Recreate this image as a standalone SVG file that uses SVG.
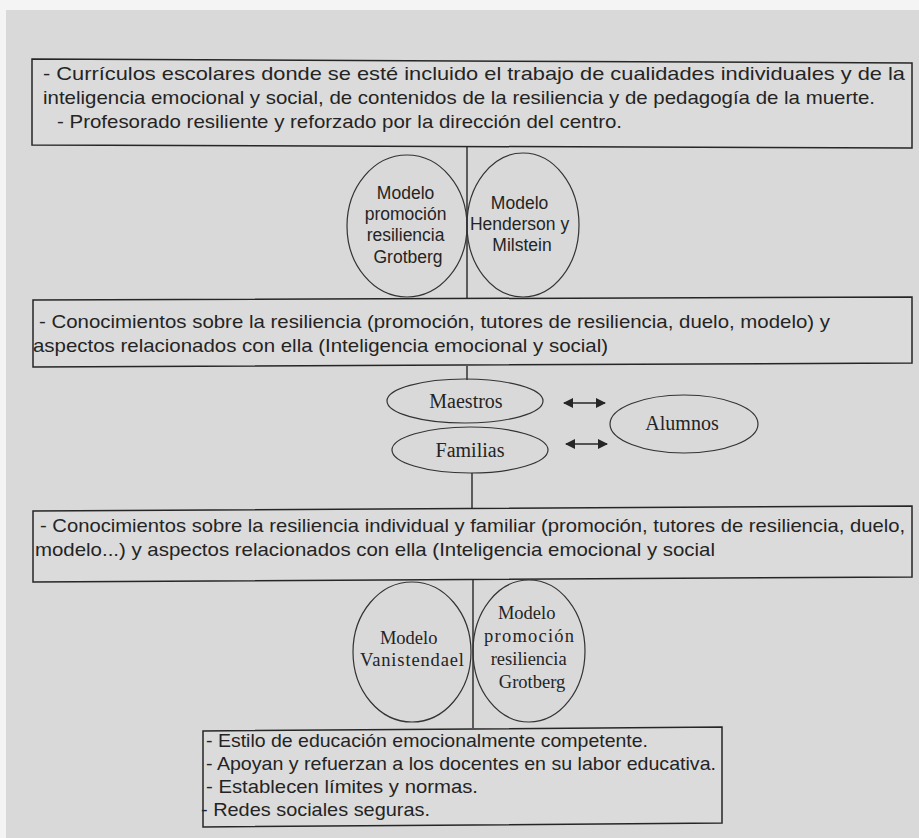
<svg xmlns="http://www.w3.org/2000/svg" width="919" height="838" viewBox="0 0 919 838">
  <style>
    .box { fill: #dbdbdb; stroke: #262626; stroke-width: 1.5; }
    .oval { fill: none; stroke: #333; stroke-width: 1.2; }
    .link { stroke: #262626; stroke-width: 1.4; fill: none; }
    .sans { font-family: "Liberation Sans", Arial, sans-serif; fill: #242424; }
    .serif { font-family: "Liberation Serif", "Times New Roman", serif; fill: #242424; }
    .tb { font-size: 19px; }
    .te { font-size: 17.5px; }
    .tm { font-size: 20px; }
    .tl { font-size: 18.5px; }
  </style>
  <defs>
    <marker id="tip" viewBox="0 0 10 10" refX="9" refY="5" markerWidth="10" markerHeight="10" orient="auto-start-reverse" markerUnits="userSpaceOnUse">
      <path d="M0,0 L10,5 L0,10 z" fill="#262626"/>
    </marker>
  </defs>

  <!-- page -->
  <rect x="0" y="0" width="919" height="838" fill="#f4f4f4"/>
  <rect x="6" y="10" width="913" height="828" fill="#d9d9d9"/>

  <!-- connectors -->
  <g id="connectors">
    <line class="link" x1="467" y1="147" x2="467" y2="299"/>
    <line class="link" x1="467" y1="366" x2="467" y2="380"/>
    <line class="link" x1="472" y1="473" x2="472" y2="508"/>
    <line class="link" x1="473" y1="580" x2="473" y2="728"/>
    <line class="link" x1="564" y1="403" x2="605" y2="403" marker-start="url(#tip)" marker-end="url(#tip)"/>
    <line class="link" x1="566" y1="444" x2="607" y2="444" marker-start="url(#tip)" marker-end="url(#tip)"/>
  </g>

  <!-- curriculum box -->
  <g id="box-curriculos">
    <polygon class="box" points="32,59 912,63 912,148 32,145"/>
    <text class="sans tb" x="43" y="80" textLength="862" lengthAdjust="spacingAndGlyphs">- Currículos  escolares donde se esté incluido el  trabajo de cualidades individuales y de la</text>
    <text class="sans tb" x="43" y="104" textLength="832" lengthAdjust="spacingAndGlyphs">inteligencia emocional y social, de contenidos de la resiliencia y de pedagogía de la muerte.</text>
    <text class="sans tb" x="57" y="128" textLength="565" lengthAdjust="spacingAndGlyphs">- Profesorado resiliente y reforzado por la dirección del centro.</text>
  </g>

  <!-- upper models -->
  <g id="modelo-grotberg-1">
    <ellipse class="oval" cx="407" cy="226" rx="60" ry="71"/>
    <text class="sans te" text-anchor="middle">
      <tspan x="408" y="199">Modelo</tspan>
      <tspan x="408" y="220">promoción</tspan>
      <tspan x="408" y="241">resiliencia</tspan>
      <tspan x="408" y="263">Grotberg</tspan>
    </text>
  </g>
  <g id="modelo-henderson">
    <ellipse class="oval" cx="523" cy="225" rx="56" ry="72"/>
    <text class="sans te" text-anchor="middle">
      <tspan x="522" y="209">Modelo</tspan>
      <tspan x="522" y="230">Henderson y</tspan>
      <tspan x="522" y="251">Milstein</tspan>
    </text>
  </g>

  <!-- knowledge box (school) -->
  <g id="box-conocimientos-1">
    <polygon class="box" points="33,300 912,297 912,363 33,367"/>
    <text class="sans tb" x="39" y="328" textLength="791" lengthAdjust="spacingAndGlyphs">- Conocimientos sobre la resiliencia (promoción, tutores de resiliencia, duelo, modelo)  y</text>
    <text class="sans tb" x="33" y="352" textLength="575" lengthAdjust="spacingAndGlyphs">aspectos relacionados con  ella (Inteligencia emocional y social)</text>
  </g>

  <!-- actors -->
  <g id="maestros">
    <ellipse class="oval" cx="465" cy="401" rx="78" ry="22"/>
    <text class="serif tm" x="466" y="408" text-anchor="middle">Maestros</text>
  </g>
  <g id="familias">
    <ellipse class="oval" cx="470" cy="450" rx="78" ry="23"/>
    <text class="serif tm" x="470" y="457" text-anchor="middle">Familias</text>
  </g>
  <g id="alumnos">
    <ellipse class="oval" cx="684" cy="424" rx="74" ry="29"/>
    <text class="serif tm" x="682" y="430" text-anchor="middle">Alumnos</text>
  </g>

  <!-- knowledge box (families) -->
  <g id="box-conocimientos-2">
    <polygon class="box" points="33,511 912,506 912,577 33,582"/>
    <text class="sans tb" x="40" y="532" textLength="865" lengthAdjust="spacingAndGlyphs">- Conocimientos sobre la resiliencia individual y familiar (promoción, tutores de resiliencia, duelo,</text>
    <text class="sans tb" x="35" y="556" textLength="680" lengthAdjust="spacingAndGlyphs">modelo...) y  aspectos relacionados con  ella (Inteligencia  emocional y social</text>
  </g>

  <!-- lower models -->
  <g id="modelo-vanistendael">
    <ellipse class="oval" cx="412" cy="652" rx="59" ry="70"/>
    <text class="serif tl" text-anchor="middle">
      <tspan x="411" y="644">Modelo</tspan>
      <tspan x="412" y="666" textLength="104" lengthAdjust="spacing">Vanistendael</tspan>
    </text>
  </g>
  <g id="modelo-grotberg-2">
    <ellipse class="oval" cx="529" cy="651" rx="56" ry="71"/>
    <text class="serif tl" text-anchor="middle">
      <tspan x="529" y="619">Modelo</tspan>
      <tspan x="532" y="642" textLength="90" lengthAdjust="spacing">promoción</tspan>
      <tspan x="531" y="665">resiliencia</tspan>
      <tspan x="532" y="688">Grotberg</tspan>
    </text>
  </g>

  <!-- family practices box -->
  <g id="box-familias">
    <polygon class="box" points="203,731 722,727 722,823 203,827"/>
    <text class="sans tb" x="206" y="747" textLength="442" lengthAdjust="spacingAndGlyphs">- Estilo de educación emocionalmente competente.</text>
    <text class="sans tb" x="206" y="770" textLength="510" lengthAdjust="spacingAndGlyphs">- Apoyan y refuerzan  a los docentes en su labor educativa.</text>
    <text class="sans tb" x="206" y="793" textLength="272" lengthAdjust="spacingAndGlyphs">- Establecen límites y  normas.</text>
    <text class="sans tb" x="201" y="816" textLength="229" lengthAdjust="spacingAndGlyphs">- Redes sociales seguras.</text>
  </g>
</svg>
